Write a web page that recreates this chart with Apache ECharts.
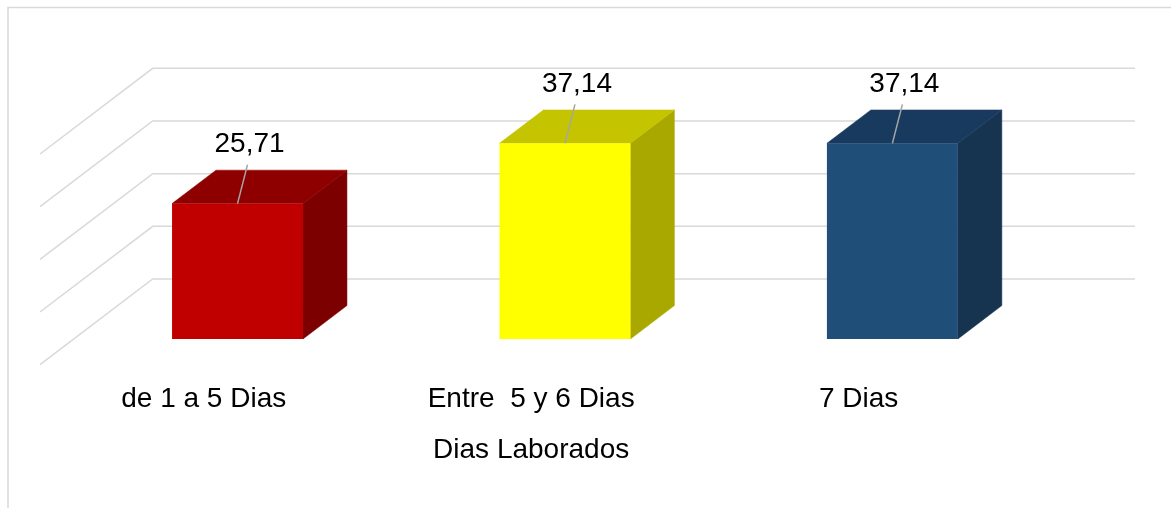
<!DOCTYPE html>
<html>
<head>
<meta charset="utf-8">
<title>Dias Laborados</title>
<script src="https://cdn.jsdelivr.net/npm/echarts@6/dist/echarts.min.js"></script>
<style>
  html, body { margin: 0; padding: 0; background: #fff; }
  #main { width: 1171px; height: 508px; }
</style>
</head>
<body>
<div id="main"></div>
<script>
// data
var categories = ['de 1 a 5 Dias', 'Entre  5 y 6 Dias', '7 Dias'];
var values = [25.71, 37.14, 37.14];
var yTicks = [0, 10, 20, 30, 40];

// 3d look: full depth of the floor, and where the bars sit in it
var DX = 112.7, DY = 85.7;
var BAR_FRONT = 0.30, BAR_BACK = 0.69;
var frontColors = ['#C00000', '#FFFF00', '#1F4E79'];
var topColors = ['#8E0000', '#C4C400', '#183A5E'];
var sideColors = ['#7C0000', '#A8A800', '#163350'];
var font = 'Liberation Sans, Arial, sans-serif';

function fmt(v) {
    return v.toFixed(2).replace('.', ',');
}

var option = {
    backgroundColor: '#fff',
    animation: false,
    graphic: [{
        type: 'rect',
        shape: { x: 8, y: 7.5, width: 1300, height: 700 },
        style: { fill: null, stroke: '#d9d9d9', lineWidth: 1.5 },
        z: -10
    }],
    grid: { left: 40, right: 148.7, top: 154, bottom: 143.3 },
    xAxis: {
        type: 'category',
        data: categories,
        axisLine: { show: false },
        axisTick: { show: false },
        axisLabel: { fontSize: 28, color: '#000', fontFamily: font, margin: 21 },
        name: 'Dias Laborados',
        nameLocation: 'middle',
        nameGap: 72,
        nameTextStyle: { fontSize: 28, color: '#000', fontFamily: font }
    },
    yAxis: {
        type: 'value',
        min: 0,
        max: 40,
        interval: 10,
        show: false
    },
    series: [
        {
            // back wall + side wall grid lines
            type: 'custom',
            silent: true,
            data: yTicks.map(function (v) { return [0, v]; }),
            encode: { x: 0, y: 1 },
            renderItem: function (params, api) {
                var cs = params.coordSys;
                var y = api.coord([0, api.value(1)])[1];
                return {
                    type: 'polyline',
                    shape: { points: [[cs.x, y], [cs.x + DX, y - DY], [cs.x + cs.width + DX, y - DY]] },
                    style: { stroke: '#d9d9d9', lineWidth: 1.5, fill: null }
                };
            }
        },
        {
            type: 'custom',
            data: values.map(function (v, i) { return [i, v]; }),
            encode: { x: 0, y: 1 },
            renderItem: function (params, api) {
                var i = params.dataIndex;
                var v = api.value(1);
                var top = api.coord([api.value(0), v]);
                var base = api.coord([api.value(0), 0]);
                var w = api.size([1, 0])[0] * 0.4;
                var fx = DX * BAR_FRONT, fy = -DY * BAR_FRONT;
                var bx = DX * (BAR_BACK - BAR_FRONT), by = -DY * (BAR_BACK - BAR_FRONT);
                var cx = top[0] + fx;
                var x0 = cx - w / 2, x1 = cx + w / 2;
                var yT = top[1] + fy, yB = base[1] + fy;
                return {
                    type: 'group',
                    children: [
                        {
                            type: 'polygon',
                            shape: { points: [[x1, yT], [x1 + bx, yT + by], [x1 + bx, yB + by], [x1, yB]] },
                            style: { fill: sideColors[i], stroke: sideColors[i], lineWidth: 0.5 }
                        },
                        {
                            type: 'polygon',
                            shape: { points: [[x0, yT], [x1, yT], [x1 + bx, yT + by], [x0 + bx, yT + by]] },
                            style: { fill: topColors[i], stroke: topColors[i], lineWidth: 0.5 }
                        },
                        {
                            type: 'rect',
                            shape: { x: x0, y: yT, width: w, height: yB - yT },
                            style: { fill: frontColors[i] }
                        },
                        {
                            type: 'line',
                            shape: { x1: cx + 10, y1: yT - 39, x2: cx, y2: yT },
                            style: { stroke: '#a6a6a6', lineWidth: 1.5 }
                        },
                        {
                            type: 'text',
                            style: {
                                x: cx + 12, y: yT - 59,
                                text: fmt(v),
                                fontSize: 28,
                                fontFamily: font,
                                fill: '#000',
                                align: 'center',
                                verticalAlign: 'middle'
                            }
                        }
                    ]
                };
            }
        }
    ]
};

var myChart = echarts.init(document.getElementById('main'));
myChart.setOption(option);
</script>
</body>
</html>
